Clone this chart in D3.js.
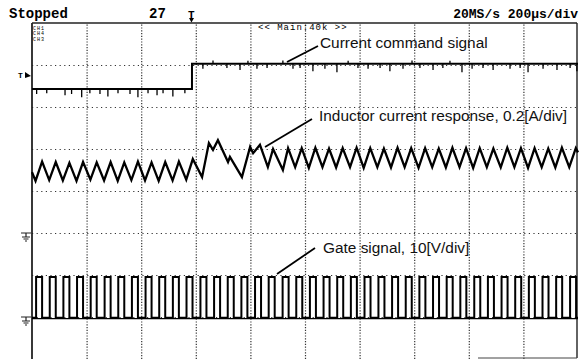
<!DOCTYPE html>
<html>
<head>
<meta charset="utf-8">
<script src="https://cdn.jsdelivr.net/npm/d3@7"></script>
<style>
  body { margin: 0; background: #fff; }
  svg { display: block; }
</style>
</head>
<body>
<svg id="svg"></svg>
<script>
    // - time base 200us/div, 10 div ; vertical 8 div
    var gridTimes = [200, 400, 600, 800, 1000, 1200, 1400, 1600, 1800];
    var gridDivs = [-3, -2, -1, 0, 1, 2, 3];

    // - CH1 current command (div)
    var cmdTime = [0, 586, 586, 2000];
    var cmdLevel = [2.43, 2.43, 3.03, 3.03];
    var cmdSpikeTime = [17, 54, 121, 145, 182, 212, 249, 278, 315, 359, 388, 425, 458, 480, 516, 560,
                        626, 663, 714, 762, 791, 824, 861, 919, 956, 982, 1029, 1073, 1117, 1158, 1194,
                        1231, 1275, 1311, 1359, 1392, 1421, 1469, 1505, 1531, 1575, 1612, 1652, 1689,
                        1751, 1788, 1817, 1872, 1923, 1971, 1996];
    var cmdSpikeLen = [-0.12, -0.1, -0.15, -0.12, -0.2, -0.1, -0.12, -0.18, -0.1, -0.12, -0.2, -0.1, -0.15, -0.1, -0.18, -0.1,
                       -0.12, 0.08, -0.1, -0.15, 0.07, -0.12, -0.1, 0.08, -0.12, -0.1, -0.18, -0.12, -0.2, 0.07, -0.1,
                       -0.12, -0.1, -0.18, -0.12, 0.08, -0.1, -0.15, -0.1, 0.07, -0.2, -0.12, -0.1, -0.15,
                       -0.12, -0.1, -0.2, -0.12, -0.15, -0.1, -0.18];

    // - CH2 inductor current (vertices of the ripple)
    var indTime = [0, 13, 37, 63, 87, 113, 137, 163, 187, 214, 237, 264, 288, 314, 338, 364, 388, 414, 438, 464,
                   488, 515, 538, 565, 589, 623, 648, 663, 681, 718, 725, 769, 799, 810, 835, 864, 883, 919,
                   938, 964, 988, 1014, 1038, 1064, 1088, 1114, 1138, 1165, 1189, 1215, 1239, 1265, 1289,
                   1315, 1339, 1365, 1389, 1416, 1440, 1466, 1490, 1516, 1540, 1566, 1590, 1616, 1640, 1666,
                   1690, 1717, 1741, 1767, 1791, 1817, 1841, 1867, 1891, 1917, 1941, 1968, 1992, 2000];
    var indLevel = [0.45, 0.24, 0.70, 0.26, 0.69, 0.25, 0.67, 0.24, 0.69, 0.27, 0.68, 0.25, 0.69, 0.24, 0.68, 0.26,
                    0.70, 0.25, 0.68, 0.24, 0.69, 0.25, 0.70, 0.27, 0.76, 0.33, 1.14, 0.98, 1.21, 0.69, 0.81,
                    0.33, 1.05, 0.90, 1.10, 0.57, 1.00, 0.50, 1.02, 0.57, 1.02, 0.55, 1.03, 0.57, 1.01, 0.56,
                    1.02, 0.57, 1.03, 0.55, 1.02, 0.57, 1.01, 0.56, 1.03, 0.57, 1.02, 0.55, 1.02, 0.57, 1.01,
                    0.56, 1.03, 0.57, 1.02, 0.55, 1.02, 0.57, 1.01, 0.56, 1.03, 0.57, 1.02, 0.55, 1.02, 0.57,
                    1.01, 0.56, 1.03, 0.57, 1.02, 0.92];

    // - CH3 gate signal edges (us) and levels (div)
    var gateRise = [15, 65, 115, 165, 215, 266, 316, 366, 416, 466, 516, 566, 617, 667, 717, 767, 817, 867, 918, 968,
                    1018, 1068, 1118, 1168, 1218, 1269, 1319, 1369, 1419, 1469, 1519, 1569, 1620, 1670, 1720,
                    1770, 1820, 1870, 1920, 1971];
    var gateFall = [37, 87, 137, 187, 237, 288, 338, 388, 438, 488, 538, 588, 639, 689, 739, 789, 839, 889, 940, 990,
                    1040, 1090, 1140, 1190, 1240, 1291, 1341, 1391, 1441, 1491, 1541, 1591, 1642, 1692, 1742,
                    1792, 1842, 1892, 1942, 1993];
    var gateLow = -3.02, gateHigh = -2.05;

    // - markers on the left (div)
    var trigLevel = 2.76;
    var groundLevels = [-1.0, -3.0];
    var trigTime = 586;

    var labels = ["Current command signal", "Inductor current response, 0.2[A/div]", "Gate signal, 10[V/div]"];
    var chNames = ["CH1", "CH4", "CH3"];

    var W = 582, H = 359;
    var svg = d3.select("svg#svg")
        .attr("width", W)
        .attr("height", H)
        .style("background-color", "white");

    var x = d3.scaleLinear().domain([0, 2000]).range([32, 578]);
    var y = d3.scaleLinear().domain([-4, 4]).range([359, 23]);

    // - grid ----------
    var gx = svg.append("g")
        .attr("transform", "translate(0," + y(-4) + ")")
        .call(d3.axisBottom(x).tickValues(gridTimes).tickSize(-(y(-4) - y(4))).tickFormat(""));
    gx.select(".domain").remove();
    gx.selectAll("line").attr("stroke", "#333").attr("stroke-width", 1.2).attr("stroke-dasharray", "1.2,1.6");

    var gy = svg.append("g")
        .attr("transform", "translate(" + x(0) + ",0)")
        .call(d3.axisLeft(y).tickValues(gridDivs).tickSize(-(x(2000) - x(0) - 1)).tickFormat(""));
    gy.select(".domain").remove();
    gy.selectAll("line").attr("stroke", "#333").attr("stroke-width", 1.2).attr("stroke-dasharray", "1.2,3.4");

    // - frame
    svg.append("line").attr("x1", x(0)).attr("x2", x(0)).attr("y1", y(4)).attr("y2", H)
        .attr("stroke", "#222").attr("stroke-width", 1.8);
    svg.append("line").attr("x1", x(0)).attr("x2", x(2000) - 1).attr("y1", y(4)).attr("y2", y(4))
        .attr("stroke", "#222").attr("stroke-width", 1.4);
    svg.append("line").attr("x1", x(2000) - 1).attr("x2", x(2000) - 1).attr("y1", y(4)).attr("y2", 358)
        .attr("stroke", "#222").attr("stroke-width", 1.4);
    svg.append("line").attr("x1", 478).attr("x2", x(2000) - 1).attr("y1", 358).attr("y2", 358)
        .attr("stroke", "#444").attr("stroke-width", 1);

    var line = d3.line().x(function(d) { return x(d[0]); }).y(function(d) { return y(d[1]); });

    // - CH1 command
    var cmdData = d3.zip(cmdTime, cmdLevel);
    svg.append("path").datum(cmdData).attr("d", line)
        .attr("fill", "none").attr("stroke", "black").attr("stroke-width", 2);
    svg.selectAll("line.spike").data(d3.zip(cmdSpikeTime, cmdSpikeLen)).enter()
        .append("line").attr("class", "spike")
        .attr("x1", function(d) { return x(d[0]); })
        .attr("x2", function(d) { return x(d[0]); })
        .attr("y1", function(d) { return y(d[0] < trigTime ? cmdLevel[0] : cmdLevel[3]); })
        .attr("y2", function(d) { return y((d[0] < trigTime ? cmdLevel[0] : cmdLevel[3]) + d[1]); })
        .attr("stroke", "black").attr("stroke-width", 1.3);

    // - CH2 inductor current
    svg.append("path").datum(d3.zip(indTime, indLevel)).attr("d", line)
        .attr("fill", "none").attr("stroke", "black").attr("stroke-width", 2.3).attr("stroke-linejoin", "miter");

    // - CH3 gate
    var gateData = [[0, gateLow]];
    for (var i = 0; i < gateRise.length; i++) {
        gateData.push([gateRise[i], gateLow], [gateRise[i], gateHigh], [gateFall[i], gateHigh], [gateFall[i], gateLow]);
    }
    gateData.push([2000, gateLow]);
    svg.append("path").datum(gateData).attr("d", line)
        .attr("fill", "none").attr("stroke", "black").attr("stroke-width", 2);
    svg.append("line").attr("x1", x(0)).attr("x2", x(2000)).attr("y1", y(gateLow) + 0.8).attr("y2", y(gateLow) + 0.8)
        .attr("stroke", "black").attr("stroke-width", 1.2);

    // - header text
    var mono = "'Liberation Mono', 'DejaVu Sans Mono', monospace";
    svg.append("text").attr("x", 9).attr("y", 18).text("Stopped")
        .style("font-family", mono).style("font-weight", "bold").style("font-size", "14px");
    svg.append("text").attr("x", 149).attr("y", 18).text("27")
        .style("font-family", mono).style("font-weight", "bold").style("font-size", "14px");
    svg.append("text").attr("x", 578).attr("y", 18).text("20MS/s 200µs/div")
        .style("font-family", mono).style("font-weight", "bold").style("font-size", "13px")
        .style("text-anchor", "end");
    svg.append("text").attr("x", 258).attr("y", 30).text("<< Main:40k >>")
        .style("font-family", mono).style("font-size", "9px").style("letter-spacing", "1px");
    svg.selectAll("text.ch").data(chNames).enter()
        .append("text").attr("class", "ch")
        .attr("x", 33).attr("y", function(d, i) { return 29.5 + i * 5.9; })
        .text(function(d) { return d; })
        .style("font-family", mono).style("font-size", "5px").style("letter-spacing", "1px");

    // - trigger marker top
    svg.append("text").attr("x", x(trigTime) - 4).attr("y", 18).text("T")
        .style("font-family", mono).style("font-weight", "bold").style("font-size", "11px");
    svg.append("path")
        .attr("d", "M" + (x(trigTime) - 3) + ",18 L" + (x(trigTime) + 2) + ",18 L" + (x(trigTime) - 0.5) + ",22.5 Z")
        .attr("fill", "black");

    // - trigger level marker left
    svg.append("text").attr("x", 18).attr("y", y(trigLevel) + 3).text("T")
        .style("font-family", mono).style("font-weight", "bold").style("font-size", "8px");
    svg.append("path")
        .attr("d", "M25," + (y(trigLevel) - 3) + " L31," + (y(trigLevel) + 1) + " L25," + (y(trigLevel) + 3) + " Z")
        .attr("fill", "black");

    // - ground markers
    groundLevels.forEach(function(g) {
        var yy = y(g);
        svg.append("path")
            .attr("d", "M21," + yy + " H31 M26," + yy + " V" + (yy + 4) +
                " M22," + (yy + 4) + " H30 M23.5," + (yy + 6) + " H28.5 M25," + (yy + 8) + " H27")
            .attr("fill", "none").attr("stroke", "#222").attr("stroke-width", 1.2);
    });

    // - annotations
    var sans = "'Liberation Sans', Arial, sans-serif";
    var notes = [
        { t: labels[0], tx: 320, ty: 48, x1: 287, y1: 62, x2: 318, y2: 46 },
        { t: labels[1], tx: 319, ty: 121, x1: 265, y1: 147, x2: 312, y2: 119 },
        { t: labels[2], tx: 323, ty: 253, x1: 277, y1: 274, x2: 315, y2: 248 }
    ];
    notes.forEach(function(n) {
        svg.append("line").attr("x1", n.x1).attr("y1", n.y1).attr("x2", n.x2).attr("y2", n.y2)
            .attr("stroke", "black").attr("stroke-width", 1.8);
        svg.append("text").attr("x", n.tx).attr("y", n.ty).text(n.t)
            .style("font-family", sans).style("font-size", "15.4px").style("fill", "#111");
    });
</script>
</body>
</html>
